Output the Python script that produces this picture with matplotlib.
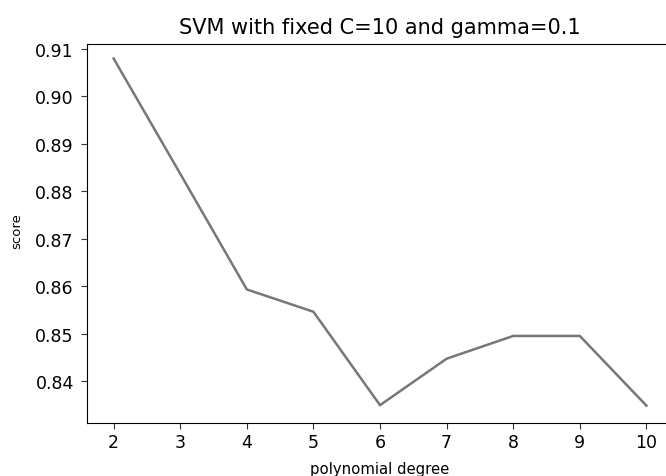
import matplotlib
matplotlib.use("Agg")
import matplotlib.pyplot as plt

degrees = [2, 3, 4, 5, 6, 7, 8, 9, 10]
scores = [0.908, 0.8837, 0.8593, 0.8546, 0.8349, 0.8447, 0.8495, 0.8495, 0.8348]
yticks = [0.84, 0.85, 0.86, 0.87, 0.88, 0.89, 0.90, 0.91]
ytick_labels = ["0.84", "0.85", "0.86", "0.87", "0.88", "0.89", "0.90", "0.91"]

fig = plt.figure(figsize=(6.66, 4.77), dpi=100)
# axes run past the right edge of the picture, as in the cropped original
ax = fig.add_axes([0.1306, 0.1111, 0.88, 0.7945])
ax.plot(degrees, scores, color="#777777", linewidth=1.8)
ax.set_title("SVM with fixed C=10 and gamma=0.1", fontsize=15, pad=8)
ax.set_xlabel("polynomial degree", fontsize=10.7)
ax.set_ylabel("score", fontsize=9.5)
ax.set_xticks(degrees)
ax.set_yticks(yticks)
ax.set_yticklabels(ytick_labels)
ax.tick_params(axis="both", labelsize=12.5, length=4, color="#333333")
ax.tick_params(axis="x", pad=3)
ax.tick_params(axis="y", pad=5.5)
ax.set_xlim(1.6, 10.4)
ax.set_ylim(0.83114, 0.91105)
ax.xaxis.set_label_coords(0.5, -0.10)
ax.yaxis.set_label_coords(-0.108, 0.51)
fig.savefig("out.png", dpi=100)
